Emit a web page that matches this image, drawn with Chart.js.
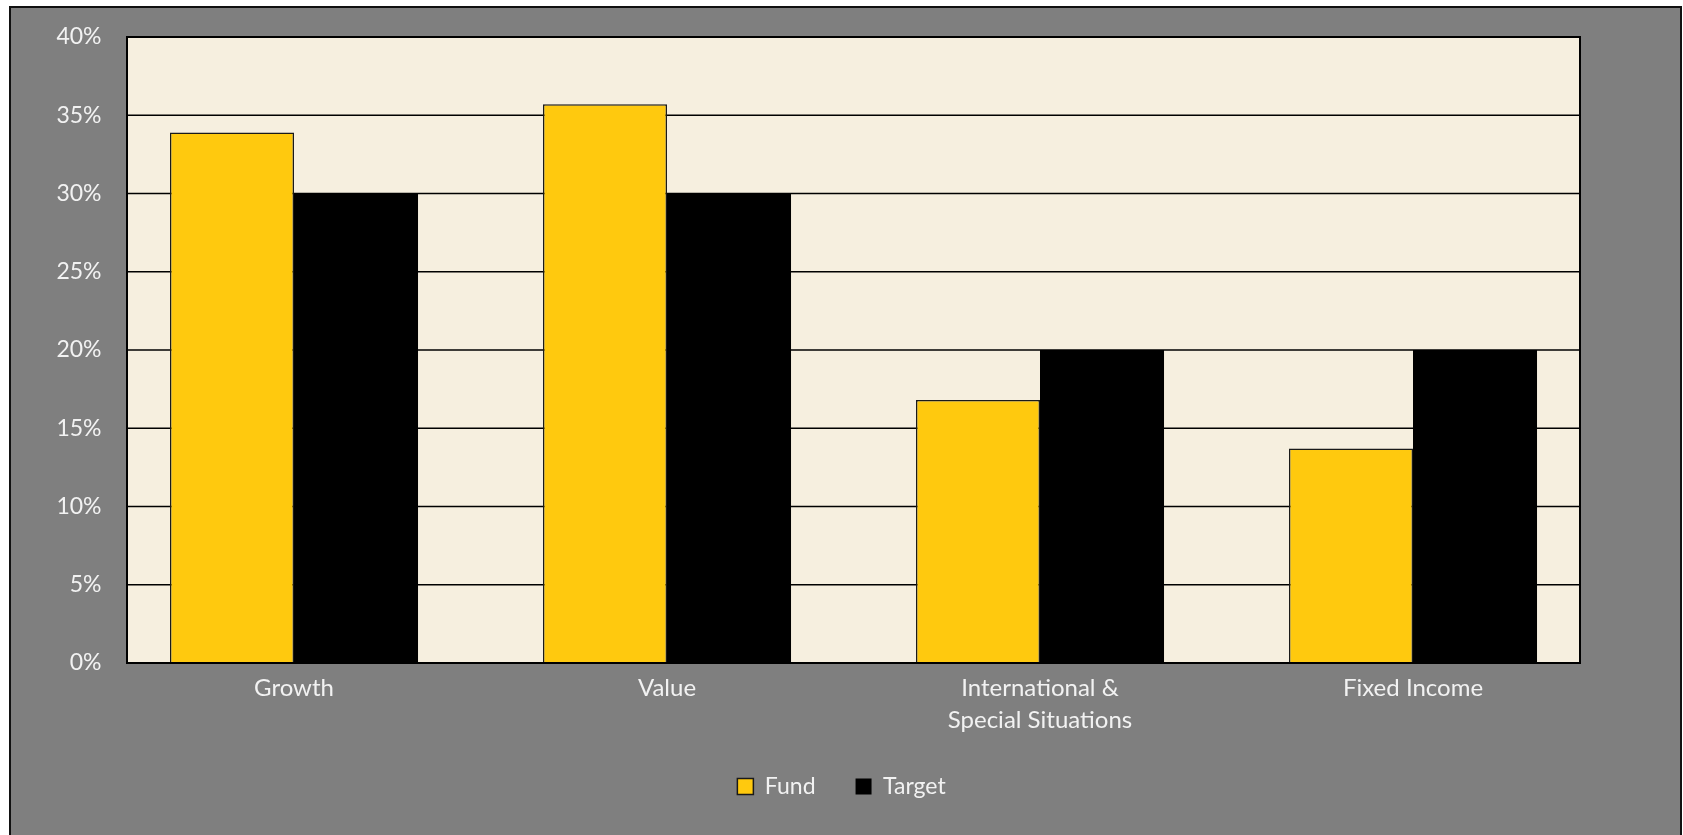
<!DOCTYPE html>
<html>
<head>
<meta charset="utf-8">
<script src="https://cdn.jsdelivr.net/npm/chart.js@4"></script>
<style>
  html, body { margin: 0; padding: 0; background: #fff; overflow: hidden; }
  #marco {
    position: absolute; left: 9px; top: 6px; width: 1673px; height: 900px;
    box-sizing: border-box; border: 2px solid #111; background: #7f7f7f;
  }
  #grafico { position: absolute; left: 0; top: 0; }
</style>
</head>
<body>
<div id="marco"></div>
<canvas id="grafico" width="1683" height="835"></canvas>
<script>
const categories = ['Growth', 'Value', ['International &', 'Special Situations'], 'Fixed Income'];
const fundValues = [33.9, 35.7, 16.8, 13.7];
const targetValues = [30, 30, 20, 20];
const yTicks = [0, 5, 10, 15, 20, 25, 30, 35, 40];
const yTickLabels = ['0%', '5%', '10%', '15%', '20%', '25%', '30%', '35%', '40%'];

// the cream plot box in the original sits a bit inside the category range
const INSET = 19.5;

const areaPlot = {
  id: 'areaPlot',
  beforeDatasetsDraw(chart) {
    const { ctx, chartArea, scales } = chart;
    const left = chartArea.left + INSET;
    const right = chartArea.right - INSET;
    ctx.save();
    ctx.fillStyle = '#f6efdf';
    ctx.fillRect(left, chartArea.top, right - left, chartArea.bottom - chartArea.top);
    ctx.strokeStyle = '#000';
    ctx.lineWidth = 1.5;
    scales.y.ticks.forEach(t => {
      const y = scales.y.getPixelForValue(t.value);
      ctx.beginPath();
      ctx.moveTo(left, y);
      ctx.lineTo(right, y);
      ctx.stroke();
    });
    ctx.restore();
  },
  afterDatasetsDraw(chart) {
    const { ctx, chartArea } = chart;
    const left = chartArea.left + INSET;
    const right = chartArea.right - INSET;
    ctx.save();
    ctx.strokeStyle = '#000';
    ctx.lineWidth = 2;
    ctx.strokeRect(left, chartArea.top, right - left, chartArea.bottom - chartArea.top);
    ctx.restore();
  }
};

new Chart(document.getElementById('grafico'), {
  type: 'bar',
  data: {
    labels: categories,
    datasets: [{
      label: 'Fund',
      data: fundValues,
      backgroundColor: '#ffc90e',
      borderColor: '#1a1a1a',
      borderWidth: 1.5,
      borderSkipped: 'bottom'
    }, {
      label: 'Target',
      data: targetValues,
      backgroundColor: '#000000',
      borderColor: '#000000',
      borderWidth: 0
    }]
  },
  options: {
    responsive: false,
    animation: false,
    devicePixelRatio: 1,
    layout: {
      padding: { top: 37, left: 0, right: 0, bottom: 27 }
    },
    datasets: {
      bar: { categoryPercentage: 0.665, barPercentage: 1 }
    },
    scales: {
      x: {
        grid: { display: false, drawTicks: false },
        border: { display: false },
        ticks: {
          color: '#f2f2f2',
          padding: 10,
          maxRotation: 0,
          font: { family: 'Lato', size: 24, lineHeight: 1.3 }
        },
        afterFit(scale) { scale.height = 72; }
      },
      y: {
        min: 0,
        max: 40,
        afterBuildTicks(scale) { scale.ticks = yTicks.map(v => ({ value: v })); },
        grid: { display: false, drawTicks: false },
        border: { display: false },
        ticks: {
          color: '#f2f2f2',
          padding: 6,
          font: { family: 'Lato', size: 23 },
          callback: (v) => yTickLabels[yTicks.indexOf(v)]
        },
        afterFit(scale) { scale.width = 107.5; }
      },
      // empty axis on the right, only to keep the space there
      margen: {
        position: 'right',
        min: 0,
        max: 40,
        grid: { display: false, drawTicks: false },
        border: { display: false },
        ticks: { display: false },
        afterFit(scale) { scale.width = 83.5; }
      }
    },
    plugins: {
      legend: {
        position: 'bottom',
        labels: {
          color: '#f2f2f2',
          boxWidth: 16,
          boxHeight: 16,
          padding: 40,
          font: { family: 'Lato', size: 23 }
        }
      },
      tooltip: { enabled: false }
    }
  },
  plugins: [areaPlot]
});
</script>
</body>
</html>
